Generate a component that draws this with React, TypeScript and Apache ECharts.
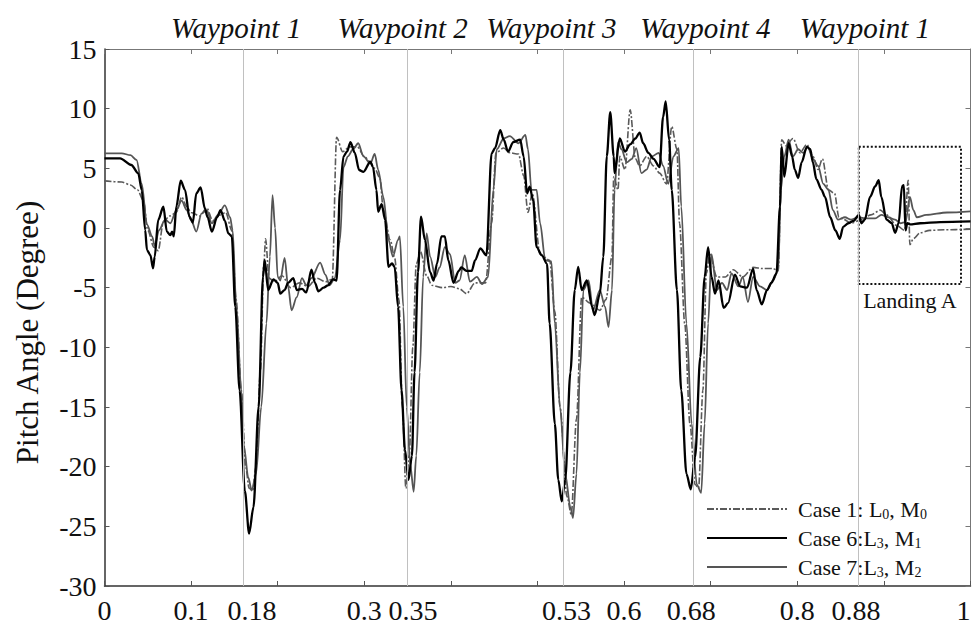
import React, { useEffect, useRef } from "react";
import * as echarts from "echarts";

// ---------- data ----------
const case1X = [0, 0.02, 0.03, 0.038, 0.045, 0.05, 0.057, 0.062, 0.068, 0.075, 0.083, 0.089, 0.095, 0.1, 0.11, 0.118, 0.125, 0.133, 0.14, 0.147, 0.152, 0.158, 0.163, 0.167, 0.171, 0.175, 0.18, 0.184, 0.186, 0.19, 0.196, 0.205, 0.215, 0.225, 0.235, 0.245, 0.255, 0.263, 0.268, 0.275, 0.283, 0.292, 0.3, 0.307, 0.312, 0.318, 0.322, 0.33, 0.335, 0.34, 0.344, 0.348, 0.352, 0.356, 0.36, 0.365, 0.372, 0.378, 0.39, 0.4, 0.41, 0.418, 0.428, 0.44, 0.447, 0.452, 0.461, 0.468, 0.478, 0.484, 0.489, 0.494, 0.503, 0.514, 0.52, 0.526, 0.534, 0.539, 0.545, 0.551, 0.561, 0.572, 0.579, 0.586, 0.588, 0.593, 0.595, 0.601, 0.607, 0.613, 0.618, 0.626, 0.634, 0.641, 0.649, 0.655, 0.661, 0.664, 0.67, 0.676, 0.682, 0.686, 0.691, 0.695, 0.699, 0.707, 0.717, 0.726, 0.737, 0.749, 0.76, 0.772, 0.778, 0.782, 0.787, 0.795, 0.803, 0.811, 0.818, 0.824, 0.829, 0.836, 0.843, 0.848, 0.854, 0.862, 0.874, 0.885, 0.896, 0.903, 0.915, 0.924, 0.928, 0.93, 0.934, 0.942, 0.953, 0.97, 1.0];
const case1Y = [3.95, 3.85, 3.6, 3.2, 2.3, -0.2, -1.6, -1.9, 0.5, 1.0, 1.3, 2.6, 1.8, 1.3, 1.0, 1.7, 0.6, 1.1, 1.3, -0.2, -6, -13.6, -20, -21.8, -22, -20, -12, -3, -0.9, -4.2, -4.5, -4.0, -5.0, -4.6, -4.9, -4.2, -4.5, -4.3, 7.6, 6.4, 6.8, 6.8, 6.0, 5.5, 5.0, 4.2, 1.5, -1.0, -2.5, -6, -15, -21.8, -19, -10, -3, -2.0, -4, -4.8, -5.0, -4.9, -5.1, -5.5, -4.6, -4.6, 0.4, 6.3, 6.7, 6.3, 6.2, 4.4, 1.3, 2.9, -2.2, -2.7, -7, -15, -22.5, -24, -16, -5.8, -6.3, -6.9, -6, -2.4, 4.3, 3.2, 6.0, 4.9, 9.9, 5.8, 5.2, 6.0, 5.2, 4.6, 3.7, 8.5, 6.6, 0.4, -8, -16.4, -21.5, -21.8, -13.6, -3.8, -2.2, -4.1, -4.1, -3.5, -4.1, -3.3, -3.4, -3.4, -3.6, 7.4, 6.9, 7.5, 6.3, 7.0, 6.0, 4.9, 5.8, 3.2, 2.9, 0.9, 0.7, 0.4, 0.7, 1.1, 1.5, 1.1, 0.2, -0.2, 4.0, -1.4, -0.9, -0.4, -0.2, -0.15, -0.1];

const case6X = [0, 0.018, 0.031, 0.039, 0.043, 0.047, 0.049, 0.053, 0.056, 0.058, 0.062, 0.068, 0.072, 0.076, 0.078, 0.08, 0.083, 0.088, 0.093, 0.098, 0.102, 0.106, 0.111, 0.116, 0.119, 0.124, 0.13, 0.134, 0.139, 0.143, 0.147, 0.151, 0.156, 0.162, 0.167, 0.172, 0.178, 0.183, 0.185, 0.189, 0.195, 0.2, 0.203, 0.208, 0.212, 0.218, 0.222, 0.228, 0.233, 0.239, 0.243, 0.247, 0.253, 0.258, 0.264, 0.268, 0.272, 0.276, 0.28, 0.284, 0.289, 0.294, 0.299, 0.307, 0.31, 0.314, 0.316, 0.32, 0.324, 0.328, 0.332, 0.335, 0.339, 0.343, 0.347, 0.351, 0.355, 0.358, 0.362, 0.3655, 0.37, 0.376, 0.38, 0.384, 0.389, 0.393, 0.397, 0.403, 0.409, 0.412, 0.418, 0.424, 0.428, 0.434, 0.441, 0.447, 0.451, 0.457, 0.461, 0.466, 0.472, 0.48, 0.484, 0.488, 0.491, 0.495, 0.499, 0.505, 0.511, 0.514, 0.52, 0.524, 0.528, 0.532, 0.538, 0.543, 0.547, 0.551, 0.557, 0.563, 0.566, 0.572, 0.576, 0.58, 0.584, 0.588, 0.589, 0.595, 0.601, 0.607, 0.613, 0.618, 0.622, 0.628, 0.634, 0.641, 0.645, 0.648, 0.652, 0.655, 0.661, 0.666, 0.672, 0.677, 0.682, 0.688, 0.693, 0.697, 0.701, 0.705, 0.709, 0.715, 0.72, 0.728, 0.734, 0.742, 0.749, 0.753, 0.759, 0.765, 0.77, 0.776, 0.78, 0.782, 0.785, 0.79, 0.794, 0.797, 0.801, 0.805, 0.811, 0.815, 0.818, 0.822, 0.828, 0.832, 0.838, 0.844, 0.849, 0.853, 0.859, 0.865, 0.871, 0.874, 0.878, 0.884, 0.89, 0.894, 0.897, 0.903, 0.909, 0.913, 0.917, 0.921, 0.923, 0.925, 0.927, 0.93, 0.942, 0.965, 1.0];
const case6Y = [5.84, 5.84, 5.28, 4.58, 3.18, -0.17, -1.85, -2.27, -3.38, -2.4, 0.67, 1.78, -0.31, -0.6, -0.3, -0.7, 1.8, 3.96, 3.2, 0.95, 0.45, 2.9, 3.4, 1.6, 0.9, -0.3, 0.9, 1.5, 0.6, -0.45, -0.7, -6.6, -13.6, -22, -25.6, -23.4, -15, -4.1, -2.7, -5.2, -4.3, -4.6, -5.5, -5.2, -4.6, -4.2, -5.2, -5.1, -5.4, -3.5, -4.6, -5.3, -5.0, -4.8, -4.3, -4.4, 3.2, 6.0, 6.4, 7.2, 6.3, 4.86, 4.7, 5.55, 5.1, 3.2, 1.36, 2.0, 0.7, -3.25, -2.97, -3.25, -6.6, -13.6, -18.6, -21.1, -19.1, -12.1, -3.7, 0.95, -1.0, -3.7, -4.4, -2.97, -0.7, -0.7, -2.7, -4.6, -3.6, -3.3, -3.6, -3.6, -2.7, -1.7, -2.3, 6.26, 6.7, 8.2, 7.4, 6.4, 7.2, 7.4, 6.0, 2.9, 3.46, 2.3, -1.6, -2.3, -3.0, -8, -16.4, -21.1, -22.9, -21.1, -12.1, -5.2, -3.25, -5.2, -4.4, -6.6, -7.3, -5.5, -2.4, 6.0, 9.7, 6.0, 4.6, 7.5, 6.4, 7.0, 7.5, 8.0, 7.1, 6.3, 5.8, 5.1, 9.3, 10.6, 7.4, 3.2, -5.2, -13.6, -20.6, -21.9, -19.2, -10.8, -4.1, -1.6, -4.1, -5.5, -4.4, -6.7, -6.3, -3.9, -4.9, -5.0, -3.4, -5.2, -6.4, -5.2, -4.6, -3.8, 1.8, 6.8, 4.3, 7.1, 6.0, 4.9, 4.2, 5.5, 6.8, 6.6, 5.5, 4.1, 3.2, 2.6, 0.9, -0.2, -0.9, 0.1, 0.4, 0.6, 1.1, 0.4, 0.7, 2.6, 3.5, 4.0, 2.6, 0.7, 0.4, -0.4, 0.4, 3.5, 3.6, -0.2, 0.4, 0.3, 0.4, 0.5, 0.55];

const case7X = [0, 0.02, 0.03, 0.037, 0.043, 0.049, 0.055, 0.058, 0.063, 0.07, 0.076, 0.083, 0.089, 0.095, 0.1, 0.106, 0.112, 0.118, 0.124, 0.131, 0.139, 0.145, 0.148, 0.152, 0.158, 0.161, 0.166, 0.17, 0.175, 0.181, 0.187, 0.191, 0.194, 0.197, 0.2, 0.203, 0.208, 0.212, 0.216, 0.222, 0.228, 0.233, 0.239, 0.249, 0.255, 0.26, 0.266, 0.272, 0.276, 0.281, 0.287, 0.293, 0.299, 0.307, 0.312, 0.316, 0.322, 0.328, 0.333, 0.339, 0.341, 0.345, 0.349, 0.353, 0.357, 0.36, 0.364, 0.368, 0.372, 0.376, 0.382, 0.387, 0.393, 0.399, 0.405, 0.41, 0.416, 0.422, 0.43, 0.436, 0.443, 0.449, 0.453, 0.461, 0.468, 0.478, 0.486, 0.489, 0.493, 0.499, 0.503, 0.509, 0.516, 0.52, 0.526, 0.532, 0.538, 0.541, 0.545, 0.549, 0.553, 0.559, 0.564, 0.572, 0.578, 0.582, 0.586, 0.589, 0.593, 0.597, 0.603, 0.609, 0.614, 0.62, 0.626, 0.632, 0.64, 0.645, 0.651, 0.657, 0.663, 0.666, 0.672, 0.678, 0.684, 0.689, 0.693, 0.697, 0.701, 0.707, 0.713, 0.719, 0.724, 0.732, 0.737, 0.743, 0.749, 0.757, 0.765, 0.772, 0.778, 0.781, 0.785, 0.79, 0.795, 0.801, 0.807, 0.812, 0.818, 0.824, 0.83, 0.836, 0.841, 0.847, 0.855, 0.862, 0.87, 0.88, 0.89, 0.897, 0.905, 0.913, 0.919, 0.925, 0.93, 0.934, 0.938, 0.949, 0.973, 1.0];
const case7Y = [6.26, 6.26, 6.1, 5.7, 3.7, 0.3, -0.7, -1.5, -0.17, 0.7, 0.4, 1.5, 2.3, 1.5, 0.67, -0.3, 1.2, 1.5, 0.4, 1.1, 1.9, 0.9, -0.2, -6.3, -13.6, -18.3, -20.9, -22, -20.6, -15, -8, -2.4, 2.76, 0, -4.1, -4.4, -2.5, -4.9, -6.9, -5.8, -4.2, -4.8, -4.2, -2.9, -3.9, -4.8, -4.2, -1.0, 5.1, 6.0, 6.6, 7.1, 6.0, 5.4, 6.2, 4.9, 2.6, -1.0, -2.4, -1.0, -0.7, -6.6, -15, -19.8, -22.1, -19.1, -12.1, -4.1, -0.45, -2.4, -4.1, -3.3, -1.6, -2.2, -4.6, -4.4, -2.3, -4.5, -4.1, -4.7, -4.1, 3.2, 6.6, 7.5, 7.7, 7.1, 7.8, 6.6, 3.2, 3.2, 0.4, -2.7, -2.8, -8, -15, -20.6, -23.4, -24.3, -20.6, -12.1, -5.2, -4.4, -6.9, -5.2, -6.6, -8.3, -5.2, 3.2, 7.2, 6.6, 5.5, 5.8, 6.7, 4.6, 4.9, 6.0, 6.3, 5.2, 3.7, 6.0, 6.7, 1.8, -8, -16.4, -21.5, -22.2, -16.4, -8, -2.2, -5.2, -4.6, -5.2, -3.8, -4.9, -4.1, -6.2, -4.1, -4.9, -5.2, -4.4, -3.5, 3.2, 6.0, 7.4, 6.0, 6.6, 6.3, 6.8, 5.8, 5.2, 3.7, 3.2, 1.5, 0.7, 0.9, 0.7, 0.9, 0.8, 0.8, 1.1, 0.9, 0.7, 0.4, 0.5, 2.6, 1.5, 0.9, 1.1, 1.3, 1.4];

// vertical reference lines (positions as drawn) and their texts
const waypointX = [0.1645, 0.3516, 0.53, 0.6776, 0.87];
const waypointTickLabels = ["0.18", "0.35", "0.53", "0.68", "0.88"];
const waypointNames = ["Waypoint 1", "Waypoint 2", "Waypoint 3", "Waypoint 4", "Waypoint 1"];

const xTickValues = [0, 0.1, 0.2, 0.3, 0.4, 0.5, 0.6, 0.7, 0.8, 0.9, 1];
const xShownLabels = [0, 0.1, 0.3, 0.6, 0.8, 1];

const landingBox = [[0.871, 6.8], [0.989, -4.7]];
const landingLabel = "Landing A";

const seriesNames = ["Case 1", "Case 6", "Case 7"];
const legendParts = [
  ["Case 1: L", "0", ", M", "0"],
  ["Case 6:L", "3", ", M", "1"],
  ["Case 7:L", "3", ", M", "2"],
];

// text nudges (pixels, positive = right) for the labels attached to the vertical lines
const nameShiftPx = [-7, -5, -12, 12, 7];
const tickShiftPx = [5, 4, 3, 0, -2];

const SERIF = "Liberation Serif, Times New Roman, serif";

function zip(xs: number[], ys: number[]) {
  return xs.map((x, i) => [x, ys[i]]);
}

function shiftPadding(dx: number) {
  return dx >= 0 ? [0, 0, 0, 2 * dx] : [0, -2 * dx, 0, 0];
}

export default function App() {
  const ref = useRef<HTMLDivElement>(null);
  useEffect(() => {
    if (!ref.current) return;
    const chart = echarts.init(ref.current, null, { renderer: "svg" });
    const labelValues = [...xShownLabels, ...waypointX].sort((a, b) => a - b);
    const tickRich: any = {};
    tickShiftPx.forEach((dx, i) => {
      tickRich["t" + i] = { fontFamily: SERIF, fontSize: 28, color: "#111", padding: shiftPadding(dx) };
    });
    const nameRich: any = {};
    nameShiftPx.forEach((dx, i) => {
      nameRich["w" + i] = {
        fontFamily: SERIF,
        fontStyle: "italic",
        fontSize: 29,
        color: "#111",
        padding: shiftPadding(dx),
      };
    });
    const option: any = {
      animation: false,
      backgroundColor: "#ffffff",
      textStyle: { fontFamily: SERIF, color: "#111" },
      grid: { left: 104.5, right: 4.5, top: 49, bottom: 38, outerBoundsMode: "none" },
      legend: {
        orient: "vertical",
        left: 701,
        top: 493,
        itemWidth: 80,
        itemHeight: 12,
        itemGap: 6,
        data: seriesNames,
        itemStyle: { opacity: 0 },
        formatter: (name: string) => {
          const p = legendParts[seriesNames.indexOf(name)];
          return `{f|${p[0]}}{s|${p[1]}}{n|${p[2]}}{s|${p[3]}}`;
        },
        textStyle: {
          fontFamily: SERIF,
          color: "#111",
          rich: {
            f: { fontFamily: SERIF, fontSize: 22, color: "#111", lineHeight: 24, padding: [0, 0, 0, 6] },
            n: { fontFamily: SERIF, fontSize: 22, color: "#111", lineHeight: 24 },
            s: { fontFamily: SERIF, fontSize: 14, color: "#111", lineHeight: 14, verticalAlign: "bottom" },
          },
        },
      },
      xAxis: [
        {
          type: "value",
          min: 0,
          max: 1,
          interval: 0.1,
          axisLine: { show: true, onZero: false, lineStyle: { color: "#333", width: 1.5 } },
          axisTick: { show: true, inside: true, length: 5, customValues: xTickValues, lineStyle: { color: "#555" } },
          splitLine: { show: false },
          axisLabel: {
            customValues: labelValues,
            alignMaxLabel: "right",
            formatter: (v: number) => {
              const i = waypointX.findIndex((w) => Math.abs(w - v) < 1e-6);
              return i >= 0 ? `{t${i}|${waypointTickLabels[i]}}` : String(v);
            },
            fontFamily: SERIF,
            fontSize: 28,
            color: "#111",
            margin: 10,
            rich: tickRich,
          },
        },
        {
          type: "value",
          position: "top",
          min: 0,
          max: 1,
          interval: 0.1,
          axisLine: { show: true, onZero: false, lineStyle: { color: "#777", width: 1 } },
          axisTick: { show: true, inside: true, length: 5, lineStyle: { color: "#777" } },
          axisLabel: { show: false },
          splitLine: { show: false },
        },
      ],
      yAxis: [
        {
          type: "value",
          min: -30,
          max: 15,
          interval: 5,
          name: "Pitch Angle (Degree)",
          nameLocation: "middle",
          nameGap: 62,
          nameTextStyle: { fontFamily: SERIF, fontSize: 31, color: "#111", padding: [0, 30, 0, 0] },
          axisLine: { show: true, onZero: false, lineStyle: { color: "#333", width: 1.5 } },
          axisTick: { show: true, inside: true, length: 5, lineStyle: { color: "#555" } },
          splitLine: { show: false },
          axisLabel: { fontFamily: SERIF, fontSize: 28, color: "#111", margin: 8 },
        },
        {
          type: "value",
          position: "right",
          min: -30,
          max: 15,
          interval: 5,
          axisLine: { show: true, onZero: false, lineStyle: { color: "#777", width: 1 } },
          axisTick: { show: true, inside: true, length: 5, lineStyle: { color: "#777" } },
          axisLabel: { show: false },
          splitLine: { show: false },
        },
      ],
      series: [
        {
          name: seriesNames[0],
          type: "line",
          data: zip(case1X, case1Y),
          showSymbol: false,
          symbol: "none",
          smooth: 0.3,
          smoothMonotone: "x",
          z: 2,
          lineStyle: { color: "#5a5a5a", width: 1.6, type: [7, 2, 2, 2] },
          itemStyle: { color: "#5a5a5a" },
          markLine: {
            silent: true,
            symbol: "none",
            lineStyle: { color: "#c0c0c0", width: 1, type: "solid" },
            label: {
              show: true,
              position: "end",
              distance: 7,
              fontFamily: SERIF,
              fontStyle: "italic",
              fontSize: 29,
              color: "#111",
              formatter: (p: any) => `{w${p.dataIndex}|${waypointNames[p.dataIndex]}}`,
              rich: nameRich,
            },
            data: waypointX.map((x) => ({ xAxis: x })),
          },
          markArea: {
            silent: true,
            itemStyle: { color: "rgba(0,0,0,0)", borderColor: "#111", borderWidth: 2, borderType: [2, 2] },
            label: {
              show: true,
              position: "bottom",
              distance: 4,
              fontFamily: SERIF,
              fontSize: 22,
              color: "#111",
              formatter: landingLabel,
            },
            data: [[{ coord: landingBox[0] }, { coord: landingBox[1] }]],
          },
        },
        {
          name: seriesNames[1],
          type: "line",
          data: zip(case6X, case6Y),
          showSymbol: false,
          symbol: "none",
          smooth: 0.3,
          smoothMonotone: "x",
          z: 4,
          lineStyle: { color: "#000000", width: 2.3 },
          itemStyle: { color: "#000000" },
        },
        {
          name: seriesNames[2],
          type: "line",
          data: zip(case7X, case7Y),
          showSymbol: false,
          symbol: "none",
          smooth: 0.3,
          smoothMonotone: "x",
          z: 3,
          lineStyle: { color: "#555555", width: 1.8 },
          itemStyle: { color: "#555555" },
        },
      ],
    };
    chart.setOption(option);
    return () => chart.dispose();
  }, []);
  return (
    <div
      ref={ref}
      style={{ position: "fixed", left: 0, top: 0, width: 975, height: 624, background: "#fff" }}
    />
  );
}
